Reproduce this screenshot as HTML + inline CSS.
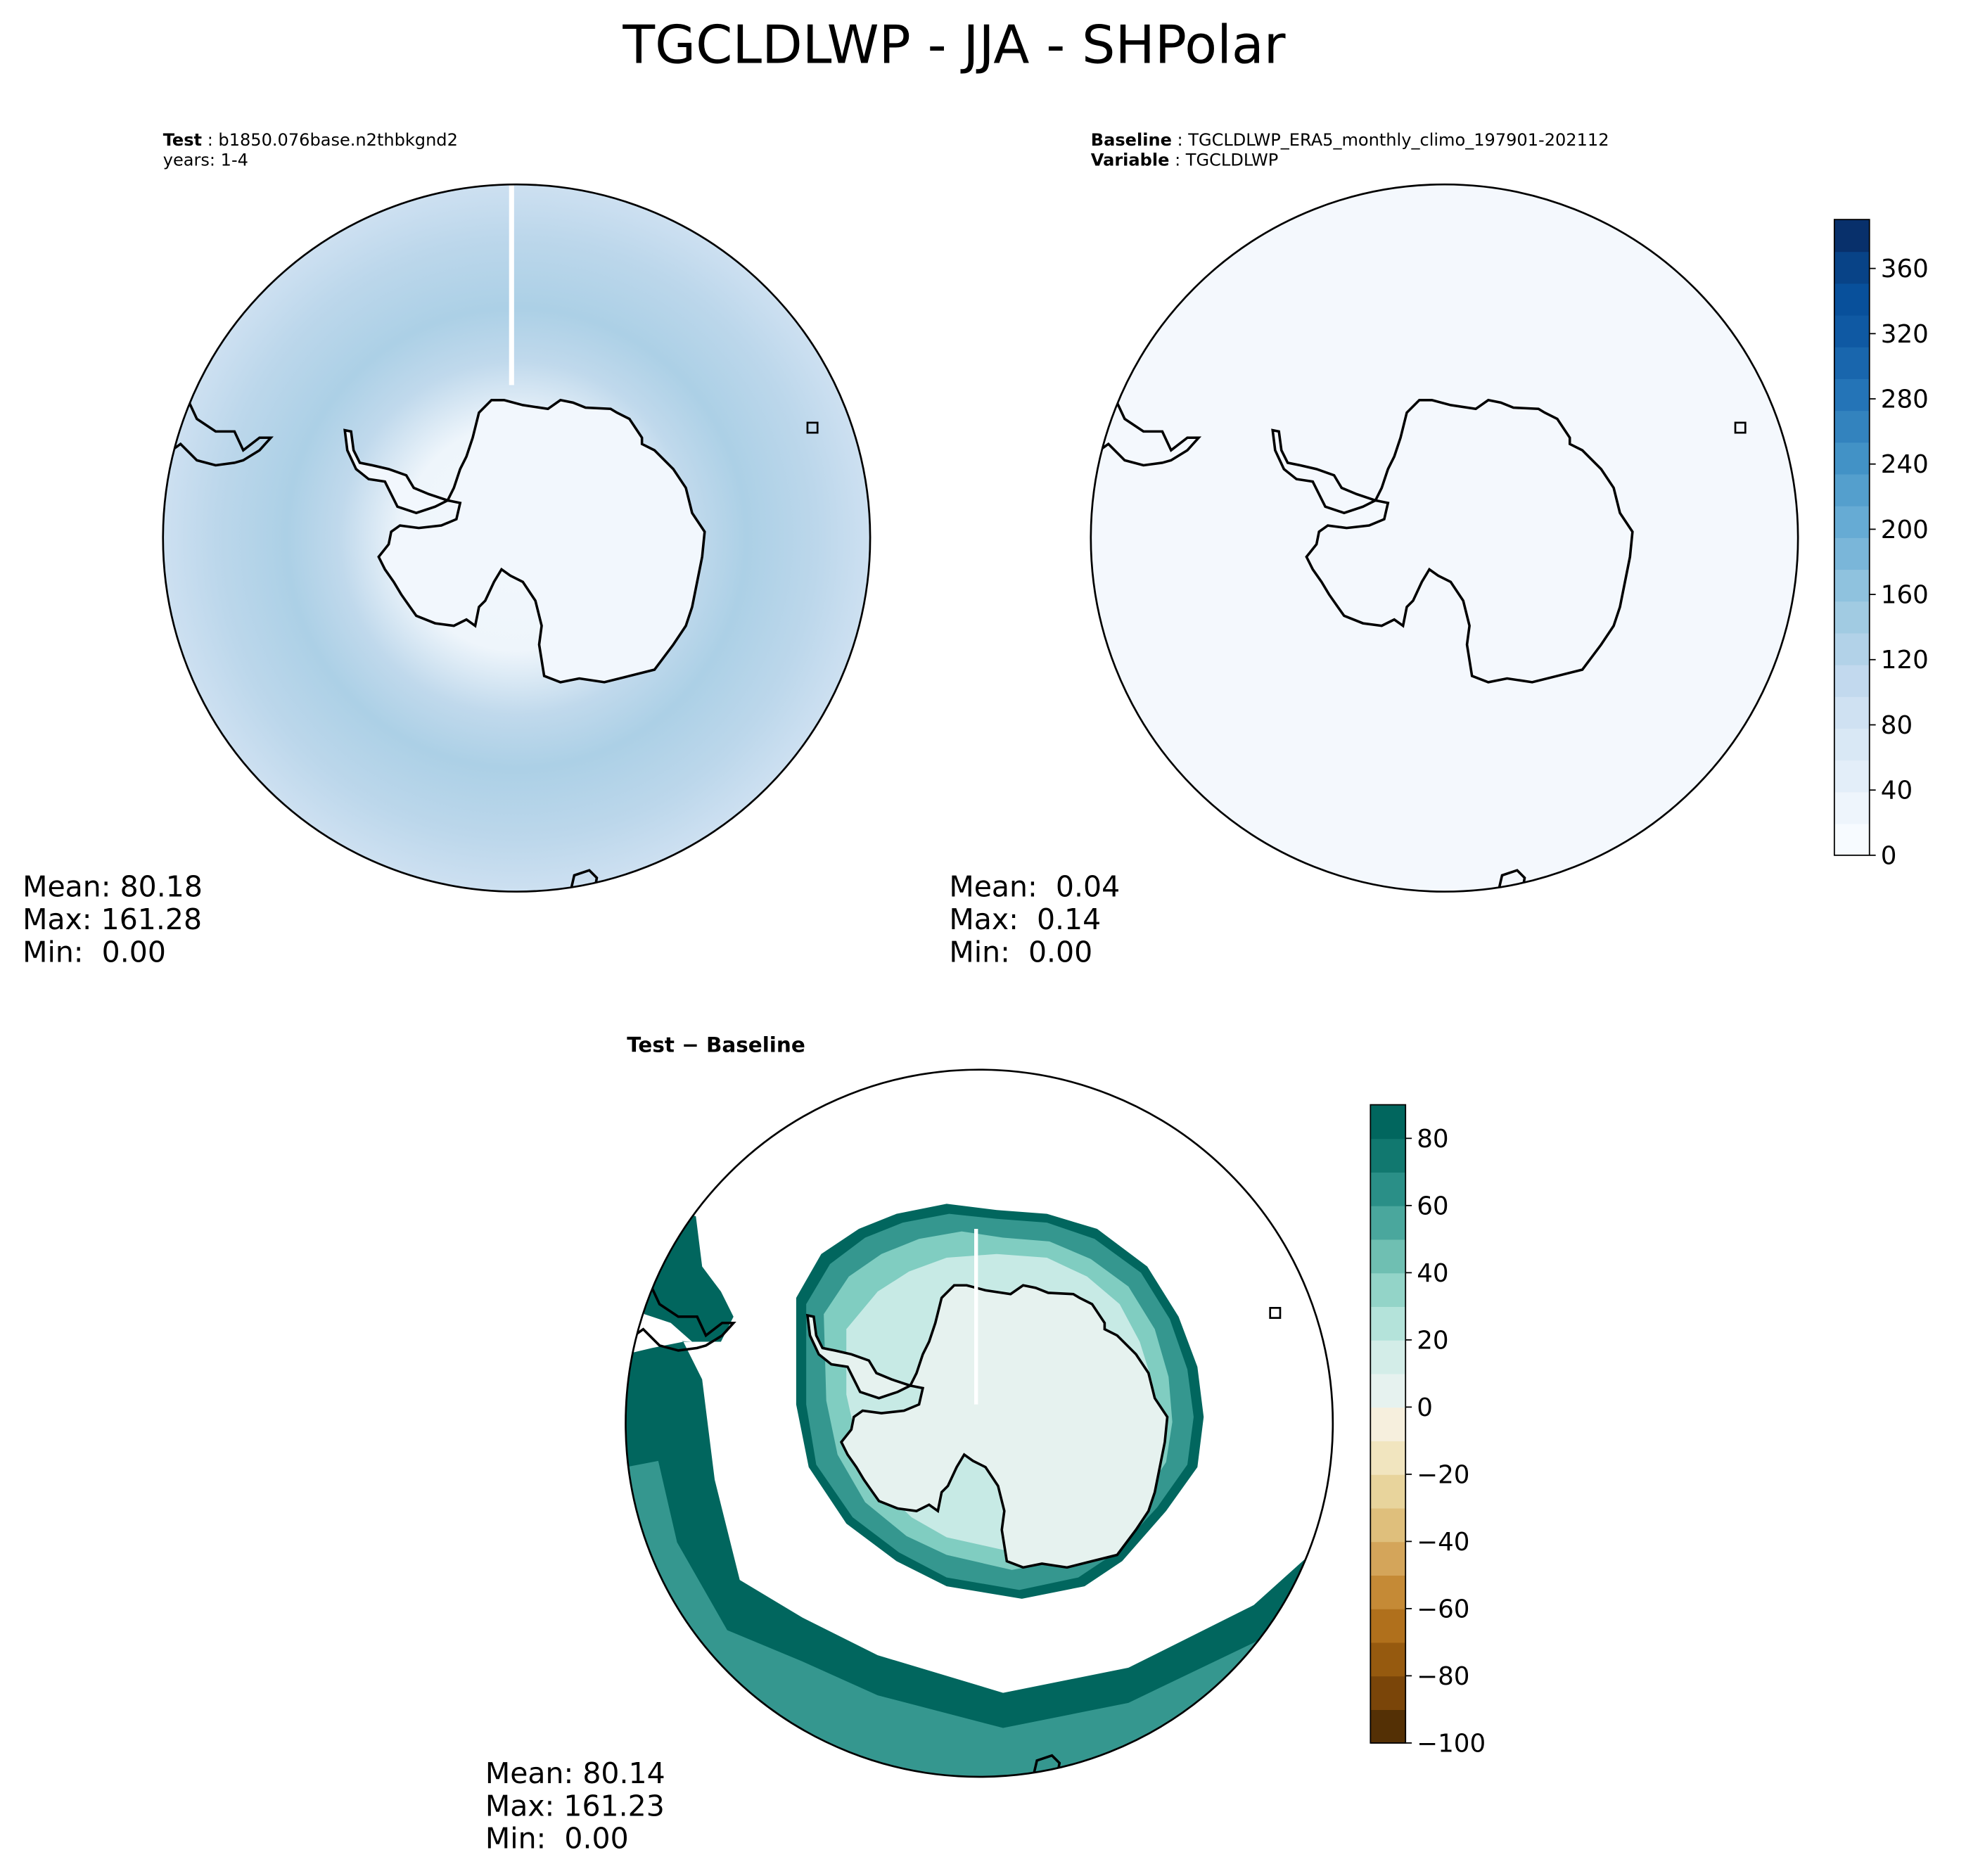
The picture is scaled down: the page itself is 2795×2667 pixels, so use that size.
<!DOCTYPE html>
<html><head><meta charset="utf-8"><style>
html,body{margin:0;padding:0;background:#fff}
svg{display:block}
text{font-family:"DejaVu Sans","Liberation Sans",sans-serif;white-space:pre}
</style></head><body>
<svg id="fig" width="2795" height="2667" viewBox="0 0 1568 1496" xmlns="http://www.w3.org/2000/svg">
<defs>
<path id="ant" d="M-137,-86 L-135,-70 L-128,-55 L-118,-47 L-105,-45 L-100,-35 L-95,-25 L-80,-20 L-65,-25 L-55,-30 L-45,-28 L-48,-15 L-60,-10 L-78,-8 L-93,-10 L-100,-5 L-102,5 L-110,15 L-105,25 L-98,35 L-92,45 L-85,55 L-80,62 L-65,68 L-50,70 L-40,65 L-33,70 L-30,55 L-25,50 L-18,35 L-12,25 L-5,30 L5,35 L15,50 L20,70 L18,85 L22,110 L35,115 L50,112 L70,115 L90,110 L110,105 L125,85 L135,70 L140,55 L145,30 L148,15 L150,-5 L140,-20 L135,-40 L125,-55 L110,-70 L100,-75 L100,-80 L90,-95 L80,-100 L75,-103 L55,-104 L45,-108 L35,-110 L25,-103 L5,-106 L-10,-110 L-20,-110 L-30,-100 L-35,-80 L-40,-65 L-45,-55 L-50,-40 L-55,-30 L-70,-35 L-82,-40 L-88,-50 L-102,-55 L-115,-58 L-125,-60 L-130,-70 L-132,-85 Z"/>
<path id="sa" d="M-282,-115 L-270,-105 L-262,-110 L-255,-95 L-240,-85 L-225,-85 L-218,-70 L-205,-80 L-196,-80 L-205,-70 L-218,-62 L-225,-60 L-240,-58 L-255,-62 L-268,-75 L-275,-70 L-282,-80"/>
<clipPath id="c1"><circle cx="412" cy="429" r="282"/></clipPath>
<clipPath id="c2"><circle cx="1152" cy="429" r="282"/></clipPath>
<clipPath id="c3"><circle cx="781" cy="1135" r="282"/></clipPath>
<radialGradient id="g1" cx="0.5" cy="0.5" r="0.5">
<stop offset="0" stop-color="#f3f8fd"/><stop offset="0.32" stop-color="#eef5fb"/><stop offset="0.5" stop-color="#c0d9ec"/><stop offset="0.65" stop-color="#acd0e6"/><stop offset="0.85" stop-color="#bcd7eb"/><stop offset="1" stop-color="#cde0f1"/>
</radialGradient>
</defs>

<text x="761" y="50" font-size="42" text-anchor="middle">TGCLDLWP - JJA - SHPolar</text>

<g>
<text x="130" y="116" font-size="13.5"><tspan font-weight="bold">Test</tspan> : b1850.076base.n2thbkgnd2</text>
<text x="130" y="132" font-size="13.5">years: 1-4</text>
<g clip-path="url(#c1)">
<circle cx="412" cy="429" r="282" fill="url(#g1)"/>
<rect x="406" y="147" width="4" height="160" fill="#fff"/>
<use href="#ant" x="412" y="429" fill="#f2f7fd" stroke="#000" stroke-width="2"/>
<use href="#sa" x="412" y="429" fill="none" stroke="#000" stroke-width="2"/>
<path d="M455,711 L458,698 L470,694 L476,700 L474,711" fill="none" stroke="#000" stroke-width="2"/>
<rect x="644" y="337" width="8" height="8" fill="none" stroke="#000" stroke-width="1.5"/>
</g>
<circle cx="412" cy="429" r="282" fill="none" stroke="#000" stroke-width="1.5"/>
<text x="18" y="715" font-size="23">Mean: 80.18</text>
<text x="18" y="741" font-size="23">Max: 161.28</text>
<text x="18" y="767" font-size="23">Min:  0.00</text>
</g>

<g>
<text x="870" y="116" font-size="13.5"><tspan font-weight="bold">Baseline</tspan> : TGCLDLWP_ERA5_monthly_climo_197901-202112</text>
<text x="870" y="132" font-size="13.5"><tspan font-weight="bold">Variable</tspan> : TGCLDLWP</text>
<g clip-path="url(#c2)">
<circle cx="1152" cy="429" r="282" fill="#f4f8fd"/>
<use href="#ant" x="1152" y="429" fill="none" stroke="#000" stroke-width="2"/>
<use href="#sa" x="1152" y="429" fill="none" stroke="#000" stroke-width="2"/>
<path d="M1195,711 L1198,698 L1210,694 L1216,700 L1214,711" fill="none" stroke="#000" stroke-width="2"/>
<rect x="1384" y="337" width="8" height="8" fill="none" stroke="#000" stroke-width="1.5"/>
</g>
<circle cx="1152" cy="429" r="282" fill="none" stroke="#000" stroke-width="1.5"/>
<text x="757" y="715" font-size="23">Mean:  0.04</text>
<text x="757" y="741" font-size="23">Max:  0.14</text>
<text x="757" y="767" font-size="23">Min:  0.00</text>
</g>
<g id="cb1"></g>

<g>
<text x="500" y="839" font-size="16.5" font-weight="bold">Test − Baseline</text>
<g clip-path="url(#c3)">
<circle cx="781" cy="1135" r="282" fill="#fff"/>
<path d="M499,1080 L520,1075 L545,1070 L560,1100 L570,1180 L590,1260 L640,1290 L700,1320 L800,1350 L900,1330 L1000,1280 L1050,1235 L1070,1230 L1070,1430 L490,1430 Z" fill="#01665e"/>
<path d="M499,1170 L525,1165 L540,1230 L580,1300 L640,1325 L700,1352 L800,1378 L900,1358 L1000,1310 L1060,1275 L1070,1430 L490,1430 Z" fill="#35978f"/>
<path d="M510,1040 L530,960 L555,970 L560,1010 L575,1030 L585,1050 L575,1070 L545,1070 L520,1060 Z" fill="#01665e"/>
<path d="M505,1045 L535,1055 L552,1070 L520,1068 Z" fill="#fff"/>
<g transform="translate(795,1120)">
<path d="M-160,-85 L-140,-120 L-110,-140 L-80,-152 L-40,-160 L0,-155 L40,-152 L80,-140 L120,-110 L145,-70 L160,-30 L165,10 L160,50 L135,85 L100,125 L70,145 L20,155 L-40,145 L-80,125 L-120,95 L-150,50 L-160,0 Z" fill="#01665e"/>
<path d="M-152,-80 L-133,-112 L-105,-133 L-75,-145 L-38,-152 L0,-148 L40,-145 L78,-132 L115,-105 L138,-68 L152,-28 L157,10 L152,48 L128,82 L95,118 L65,138 L18,148 L-40,138 L-78,118 L-115,90 L-144,48 L-152,0 Z" fill="#35978f"/>
<path d="M-138,-72 L-118,-102 L-92,-120 L-62,-132 L-28,-138 L5,-133 L42,-130 L75,-116 L105,-94 L126,-60 L137,-22 L140,14 L135,46 L114,78 L85,108 L55,124 L12,132 L-40,120 L-72,105 L-105,78 L-127,40 L-136,-3 Z" fill="#80cdc1"/>
<path d="M-120,-60 L-95,-90 L-70,-106 L-40,-117 L0,-120 L40,-117 L72,-102 L98,-80 L114,-50 L124,-18 L127,15 L121,42 L101,72 L75,96 L44,110 L5,116 L-40,106 L-68,90 L-95,64 L-112,28 L-120,-8 Z" fill="#c7eae5"/>
</g>
<use href="#ant" x="781" y="1135" fill="#e6f2ef" stroke="#000" stroke-width="2"/>
<use href="#sa" x="781" y="1135" fill="none" stroke="#000" stroke-width="2"/>
<rect x="777" y="980" width="3" height="140" fill="#fff"/>
<path d="M824,1417 L827,1404 L839,1400 L845,1406 L843,1417" fill="none" stroke="#000" stroke-width="2"/>
<rect x="1013" y="1043" width="8" height="8" fill="none" stroke="#000" stroke-width="1.5"/>
</g>
<circle cx="781" cy="1135" r="282" fill="none" stroke="#000" stroke-width="1.5"/>
<text x="387" y="1422" font-size="23">Mean: 80.14</text>
<text x="387" y="1448" font-size="23">Max: 161.23</text>
<text x="387" y="1474" font-size="23">Min:  0.00</text>
</g>
<g id="cb2"></g>
</svg>
<script>
const cb1Ticks = [0,40,80,120,160,200,240,280,320,360];
const cb1Max = 390;
const cb1Colors = ["#f7fbff","#eef5fc","#e3eef9","#d9e8f5","#cfe1f2","#c2d9ee","#b2d2e8","#a1cbe2","#8fc2de","#7ab6d9","#66abd4","#549fcd","#4292c6","#3383be","#2474b7","#1966ad","#0f59a3","#08509b","#084387","#08306b"];
const cb2Ticks = [-100,-80,-60,-40,-20,0,20,40,60,80];
const cb2Levels = [-100,-90,-80,-70,-60,-50,-40,-30,-20,-10,0,10,20,30,40,50,60,70,80,90];
const cb2Colors = ["#543005","#7a4509","#965a0f","#b0701c","#c58a36","#d4a55a","#dfbf7c","#e8d49c","#f1e5bf","#f6efdd","#e6f2ef","#d3ede8","#b4e3da","#93d4c8","#6fbfb2","#4aa79d","#2a8f87","#11786f","#01665e","#003c30"];
const NS="http://www.w3.org/2000/svg";
function mk(t,a,p){const e=document.createElementNS(NS,t);for(const k in a)e.setAttribute(k,a[k]);p.appendChild(e);return e;}
function colorbar(g,x,y0,y1,vmin,vmax,bounds,colors,ticks){
  const sc=v=>y1-(v-vmin)/(vmax-vmin)*(y1-y0);
  for(let i=0;i<bounds.length-1;i++){
    const r=mk('rect',{x:x,y:sc(bounds[i+1])-0.3,width:28,height:sc(bounds[i])-sc(bounds[i+1])+0.8,fill:colors[i]},g);
    
    
  }
  mk('rect',{x:x,y:y0,width:28,height:y1-y0,fill:'none',stroke:'#000','stroke-width':1},g);
  ticks.forEach(v=>{
    const y=sc(v);
    mk('line',{x1:x+28,x2:x+33,y1:y,y2:y,stroke:'#000','stroke-width':1},g);
    const t=mk('text',{x:x+37,y:y+7,'font-size':20},g);
    t.textContent=String(v).replace('-','\u2212');
    
    
  });
}
const b1=[];for(let i=0;i<=cb1Colors.length;i++)b1.push(i*cb1Max/cb1Colors.length);
colorbar(document.getElementById('cb1'),1463,175,682,0,cb1Max,b1,cb1Colors,cb1Ticks);
colorbar(document.getElementById('cb2'),1093,881,1390,-100,90,cb2Levels,cb2Colors,cb2Ticks);
</script>
</body></html>
